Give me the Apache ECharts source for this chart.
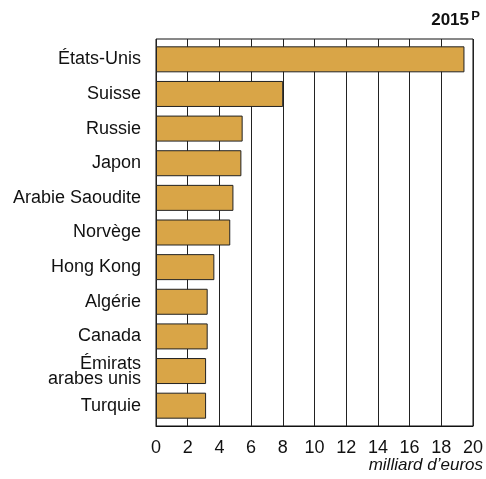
<!DOCTYPE html>
<html>
<head>
<meta charset="utf-8">
<script src="https://cdn.jsdelivr.net/npm/echarts@6/dist/echarts.min.js"></script>
<style>
html,body{margin:0;padding:0;background:#fff;}
#chart{width:486px;height:479px;}
</style>
</head>
<body>
<div id="chart"></div>
<script>
var categories = ['États-Unis','Suisse','Russie','Japon','Arabie Saoudite','Norvège','Hong Kong','Algérie','Canada','Émirats\narabes unis','Turquie'];
var values = [19.4, 8.0, 5.45, 5.37, 4.87, 4.67, 3.67, 3.25, 3.25, 3.15, 3.15];
var xTicks = {min: 0, max: 20, interval: 2};
var titleMain = '2015';
var titleSup = 'P';
var unitLabel = 'milliard d’euros';

var FONT = "Arial, 'Liberation Sans', Helvetica, sans-serif";
var chart = echarts.init(document.getElementById('chart'), null, {renderer: 'canvas'});
chart.setOption({
  animation: false,
  backgroundColor: '#ffffff',
  textStyle: {fontFamily: FONT},
  grid: [
    {left: 156, top: 39, width: 318, height: 387, show: true, borderColor: '#111', borderWidth: 1, backgroundColor: 'transparent'},
    {left: 156, top: 42, width: 318, height: 381}
  ],
  xAxis: [
    {gridIndex: 0, type: 'value', min: xTicks.min, max: xTicks.max, interval: xTicks.interval,
     axisLine: {show: true, lineStyle: {color: '#111', width: 1}},
     axisTick: {show: false},
     splitLine: {show: true, lineStyle: {color: '#222', width: 1}},
     axisLabel: {fontSize: 18, color: '#111', margin: 13, fontFamily: FONT}},
    {gridIndex: 1, type: 'value', min: xTicks.min, max: xTicks.max, show: false, splitLine: {show: false}}
  ],
  yAxis: [
    {gridIndex: 0, type: 'value', show: false, splitLine: {show: false}},
    {gridIndex: 1, type: 'category', inverse: true, data: categories,
     axisLine: {show: false}, axisTick: {show: false}, splitLine: {show: false},
     axisLabel: {fontSize: 18, color: '#111', margin: 15, lineHeight: 15, fontFamily: FONT}}
  ],
  series: [{
    type: 'bar', xAxisIndex: 1, yAxisIndex: 1, data: values, barWidth: 26,
    itemStyle: {color: '#D9A547', borderColor: '#222', borderWidth: 1}
  }],
  graphic: [
    {type: 'text', right: 17, top: 12, style: {text: titleMain, font: 'bold 17px ' + FONT, fill: '#111'}},
    {type: 'text', right: 6, top: 10, style: {text: titleSup, font: 'bold 13px ' + FONT, fill: '#111'}},
    {type: 'text', right: 3, top: 457, style: {text: unitLabel, font: 'italic 17px ' + FONT, fill: '#111'}}
  ]
});
</script>
</body>
</html>
